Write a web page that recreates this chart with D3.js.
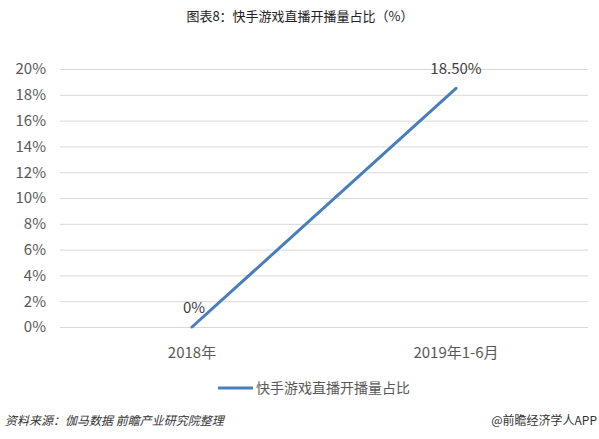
<!DOCTYPE html>
<html><head><meta charset="utf-8">
<script src="https://cdn.jsdelivr.net/npm/d3@7"></script>
<style>body{margin:0;background:#fff}svg{display:block}text{font-family:"Noto Sans CJK SC","Open Sans",sans-serif}</style>
</head><body><svg id="c" width="599" height="439"></svg>
<script>
const categories = ["2018年", "2019年1-6月"];
const values = [0, 18.5];
const valueLabels = ["0%", "18.50%"];
const yTicks = [0, 2, 4, 6, 8, 10, 12, 14, 16, 18, 20];
const seriesName = "快手游戏直播开播量占比";
const title = "图表8：快手游戏直播开播量占比（%）";
const source = "资料来源：伽马数据 前瞻产业研究院整理";
const credit = "@前瞻经济学人APP";

const svg = d3.select("#c");
const m = {l: 60, r: 11, t: 69, b: 112};
const W = 599, H = 439;
const x = d3.scaleBand().domain(categories).range([m.l, W - m.r]);
const y = d3.scaleLinear().domain([0, 20]).range([H - m.b, m.t]);

svg.append("text").attr("x", 300).attr("y", 21).attr("text-anchor", "middle")
  .attr("font-size", 13).attr("fill", "#222").text(title);

const g = svg.append("g").attr("transform", `translate(${m.l},0)`);
g.call(d3.axisLeft(y).tickValues(yTicks).tickFormat(d => d + "%")
    .tickSize(-(W - m.l - m.r)).tickPadding(14))
  .call(s => s.select(".domain").remove())
  .call(s => s.selectAll(".tick line").attr("stroke", "#d9d9d9").attr("stroke-width", 1))
  .call(s => s.selectAll(".tick text").attr("font-size", 15).attr("fill", "#595959")
    .attr("font-family", "'Open Sans','Noto Sans CJK SC',sans-serif"));

const xa = svg.append("g").attr("transform", `translate(0,${H - m.b})`);
xa.call(d3.axisBottom(x).tickSize(0).tickPadding(20))
  .call(s => s.select(".domain").remove())
  .call(s => s.selectAll(".tick text").attr("font-size", 15).attr("fill", "#595959"));

const cx = d => x(d) + x.bandwidth() / 2;
const line = d3.line().x((d, i) => cx(categories[i])).y(d => y(d));
svg.append("path").datum(values).attr("d", line).attr("fill", "none")
  .attr("stroke", "#4a7ebb").attr("stroke-width", 3).attr("stroke-linecap", "round");

svg.selectAll(".dl").data(values).enter().append("text")
  .attr("x", (d, i) => cx(categories[i]) + (i === 0 ? 2 : 0))
  .attr("y", d => y(d) - 14).attr("text-anchor", "middle")
  .attr("font-size", 15).attr("fill", "#404040")
  .attr("font-family", "'Open Sans','Noto Sans CJK SC',sans-serif")
  .text((d, i) => valueLabels[i]);

svg.append("line").attr("x1", 218).attr("x2", 253).attr("y1", 388).attr("y2", 388)
  .attr("stroke", "#4a7ebb").attr("stroke-width", 3);
svg.append("text").attr("x", 256).attr("y", 393).attr("font-size", 14)
  .attr("fill", "#595959").text(seriesName);

svg.append("text").attr("x", 5).attr("y", 425).attr("font-size", 12)
  .attr("font-style", "italic").attr("fill", "#333").text(source);
svg.append("text").attr("x", 597).attr("y", 425).attr("text-anchor", "end").attr("font-size", 12)
  .attr("fill", "#333").text(credit);
</script></body></html>
